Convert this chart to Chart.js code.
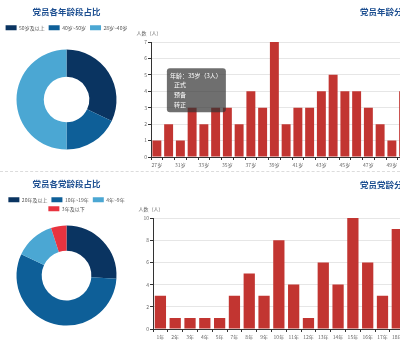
<!DOCTYPE html>
<html>
<head>
<meta charset="utf-8">
<script src="https://cdn.jsdelivr.net/npm/chart.js@4.4.0/dist/chart.umd.min.js"></script>
<style>
html, body { margin: 0; padding: 0; width: 400px; height: 340px; overflow: hidden; background: #fff; }
.box { position: absolute; }
.ttl { position: absolute; font-family: "Noto Sans CJK SC", sans-serif; font-size: 8.5px; font-weight: bold; color: #1d4f91; white-space: nowrap; }
.sep { position: absolute; left: 0; top: 171px; width: 400px; border-top: 1px dashed #dcdcdc; }
</style>
</head>
<body>
<div class="box" style="left:0;top:0;width:133px;height:168px"><canvas id="agePie"></canvas></div>
<div class="box" style="left:133px;top:0;width:281px;height:170px"><canvas id="ageBar"></canvas></div>
<div class="ttl" style="left:360px;top:5px">党员年龄分布</div>
<div class="sep"></div>
<div class="box" style="left:0;top:172px;width:133px;height:168px"><canvas id="partyPie"></canvas></div>
<div class="box" style="left:133px;top:172px;width:281px;height:170px"><canvas id="partyBar"></canvas></div>
<div class="ttl" style="left:360px;top:178px">党员党龄分布</div>

<script>
// age groups (doughnut)
const ageGroups = ['50岁及以上', '40岁~50岁', '28岁~40岁'];
const ageShares = [32, 18, 50];

// party-age groups (doughnut)
const partyGroups = ['20年及以上', '10年~19年', '4年~9年', '3年及以下'];
const partyShares = [26, 56, 13, 5];

// age distribution (bars)
const ageLabels = ['27岁', '30岁', '31岁', '32岁', '33岁', '34岁', '35岁', '36岁', '37岁', '38岁', '39岁',
  '40岁', '41岁', '42岁', '43岁', '44岁', '45岁', '46岁', '47岁', '48岁', '49岁', '50岁'];
const ageCounts = [1, 2, 1, 3, 2, 3, 3, 2, 4, 3, 7, 2, 3, 3, 4, 5, 4, 4, 3, 2, 1, 4];

// party age distribution (bars)
const yearLabels = ['1年', '2年', '3年', '4年', '5年', '7年', '8年', '9年', '10年', '11年', '12年',
  '13年', '14年', '15年', '16年', '17年', '18年'];
const yearCounts = [3, 1, 1, 1, 1, 3, 5, 3, 8, 4, 1, 6, 4, 10, 6, 3, 9];

const tipRows = ['   正式', '   预备', '   转正'];

const pieColors = ['#0a3461', '#0e5f98', '#4ba7d3', '#e8333f'];
const barColor = '#c23531';

Chart.defaults.font.family = '"Noto Sans CJK SC", sans-serif';
Chart.defaults.animation = false;

// axis name drawn above the y axis, echarts style
const axisName = {
  id: 'axisName',
  afterDraw(chart, args, opts) {
    const { ctx, chartArea } = chart;
    ctx.save();
    ctx.font = '5px "Noto Sans CJK SC"';
    ctx.fillStyle = '#666';
    ctx.textAlign = 'center';
    ctx.textBaseline = 'middle';
    ctx.fillText(opts.text, chartArea.left - 2, chartArea.top - 9);
    ctx.restore();
  }
};

Chart.Tooltip.positioners.leftOfBar = function (items) {
  if (!items.length) return false;
  const el = items[0].element;
  return { x: el.x - 1.5, y: el.y - 17.5 };
};

function pie(id, title, labels, data, pad) {
  return new Chart(document.getElementById(id), {
    type: 'doughnut',
    data: {
      labels: labels,
      datasets: [{
        data: data, backgroundColor: pieColors.slice(0, data.length), borderWidth: 0,
        radius: 50, cutout: 27
      }]
    },
    options: {
      responsive: true,
      maintainAspectRatio: false,
      layout: { padding: pad },
      plugins: {
        title: {
          display: true, text: title, color: '#1d4f91',
          font: { size: 8.5, weight: 'bold' }, padding: { top: 7, bottom: 4 }
        },
        legend: {
          position: 'top',
          labels: { boxWidth: 11, boxHeight: 5, font: { size: 5 }, color: '#555', padding: 4 }
        },
        tooltip: { enabled: false }
      }
    }
  });
}

function bars(id, labels, data, yMax, yStep, yWidth, pad, everyOther, tip) {
  return new Chart(document.getElementById(id), {
    type: 'bar',
    data: {
      labels: labels,
      datasets: [{ data: data, backgroundColor: barColor, categoryPercentage: 1, barPercentage: 0.76 }]
    },
    options: {
      responsive: true,
      maintainAspectRatio: false,
      layout: { padding: pad },
      scales: {
        x: {
          grid: { drawOnChartArea: false, tickLength: 3, tickColor: '#333' },
          border: { color: '#333' },
          ticks: {
            font: { size: 5 }, color: '#666', padding: 2, maxRotation: 0, autoSkip: false,
            callback: (v, i) => (everyOther && i % 2) ? '' : labels[i]
          }
        },
        y: {
          min: 0, max: yMax,
          afterFit: s => { s.width = yWidth; },
          grid: { color: '#e6e6e6', tickLength: 3, tickColor: '#333' },
          border: { color: '#333' },
          ticks: { stepSize: yStep, font: { size: 5 }, color: '#666', padding: 1 }
        }
      },
      plugins: {
        legend: { display: false },
        axisName: { text: '人数（人）' },
        tooltip: tip || { enabled: false }
      }
    },
    plugins: [axisName]
  });
}

pie('agePie', '党员各年龄段占比', ageGroups, ageShares, { bottom: 9 });
pie('partyPie', '党员各党龄段占比', partyGroups, partyShares, { bottom: 10 });

const ageChart = bars('ageBar', ageLabels, ageCounts, 7, 1, 18,
  { top: 42, right: 4.5, bottom: 0, left: 0 }, true, {
  position: 'leftOfBar',
  xAlign: 'right', yAlign: 'center',
  caretSize: 0, caretPadding: 0,
  backgroundColor: 'rgba(50,50,50,0.7)',
  cornerRadius: 3,
  displayColors: false,
  titleFont: { size: 6, weight: 'normal' },
  bodyFont: { size: 6 },
  titleMarginBottom: 2, bodySpacing: 2.6,
  padding: { top: 4, bottom: 4, left: 3, right: 4 },
  callbacks: {
    title: items => '年龄：' + items[0].label + '（' + items[0].raw + '人）',
    label: () => tipRows
  }
});
bars('partyBar', yearLabels, yearCounts, 10, 2, 20,
  { top: 46, right: 9.3, bottom: 0, left: 0 }, false, null);

// tooltip shown on the 35岁 bar, as in the screenshot
ageChart.tooltip.setActiveElements([{ datasetIndex: 0, index: 6 }], { x: 0, y: 0 });
ageChart.update();
</script>
</body>
</html>
